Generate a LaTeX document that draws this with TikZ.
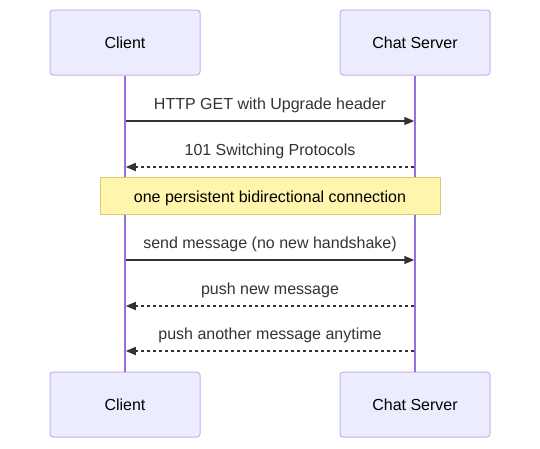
\documentclass[tikz,border=0pt]{standalone}
\usepackage{fontspec}
\setmainfont{Liberation Sans}
\usetikzlibrary{arrows.meta}
\definecolor{actfill}{HTML}{ECECFF}
\definecolor{actborder}{HTML}{C3B1EE}
\definecolor{lifeline}{HTML}{9370DB}
\definecolor{txt}{HTML}{333333}
\definecolor{notefill}{HTML}{FFF5AD}
\definecolor{noteborder}{HTML}{D6CB7A}
\tikzset{
  actor/.style={draw=actborder, fill=actfill, line width=1pt, rounded corners=3pt,
    minimum width=150pt, minimum height=65pt, inner sep=0pt,
    text height=14pt, text depth=3pt,
    font=\fontsize{16}{19}\selectfont, text=black},
  life/.style={draw=lifeline, line width=1.5pt},
  msg/.style={draw=txt, line width=1.5pt, -{Triangle[length=10pt,width=8pt]}},
  reply/.style={msg, dash pattern=on 3pt off 3pt},
  lbl/.style={font=\fontsize{16}{19}\selectfont, text=txt, inner sep=0pt},
  notebox/.style={draw=noteborder, fill=notefill, line width=1pt,
    minimum width=340pt, minimum height=37pt, inner sep=0pt,
    text height=18pt, text depth=3.5pt,
    font=\fontsize{16}{19}\selectfont, text=black}
}
\begin{document}
\begin{tikzpicture}[x=1pt,y=-1pt]
\useasboundingbox (0,0) rectangle (540,448);
\node[actor] (c1) at (125,42.5) {Client};
\node[actor] (s1) at (415,42.5) {Chat Server};
\node[actor] (c2) at (125,404.5) {Client};
\node[actor] (s2) at (415,404.5) {Chat Server};
\draw[life] (c1.south) -- (c2.north);
\draw[life] (s1.south) -- (s2.north);
% anchors on lifelines
\foreach \n/\y in {1/121,2/167,3/260,4/306,5/351}{
  \coordinate (cl\n) at (125.75,\y);
  \coordinate (sl\n) at (414.25,\y);
}
\draw[msg] (cl1) -- (sl1) node[lbl, midway, above=7pt] {HTTP GET with Upgrade header};
\draw[reply] (sl2) -- (cl2) node[lbl, midway, above=7pt] {101 Switching Protocols};
\node[notebox] (note) at (270,195.5) {one persistent bidirectional connection};
\draw[msg] (cl3) -- (sl3) node[lbl, midway, above=7pt] {send message (no new handshake)};
\draw[reply] (sl4) -- (cl4) node[lbl, midway, above=7pt] {push new message};
\draw[reply] (sl5) -- (cl5) node[lbl, midway, above=7pt] {push another message anytime};
\end{tikzpicture}
\end{document}
